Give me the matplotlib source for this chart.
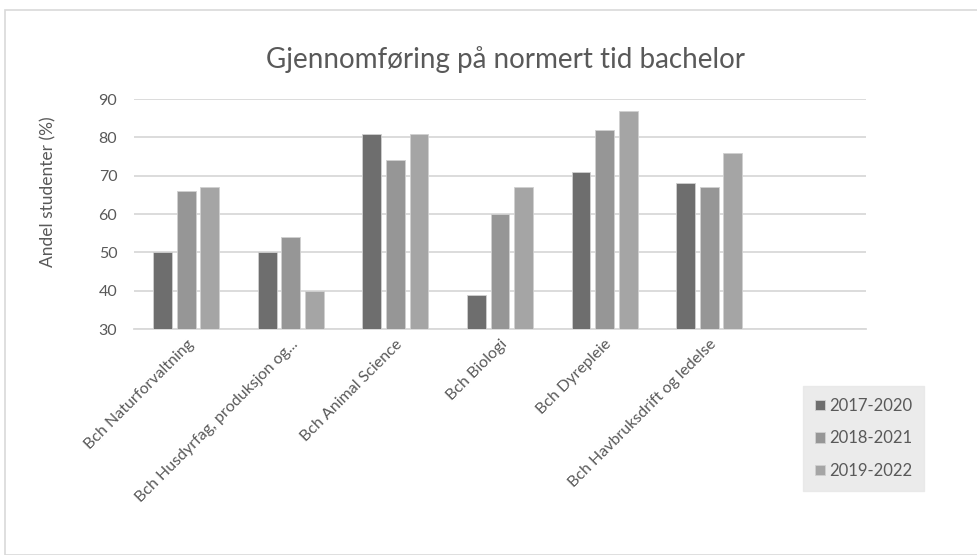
import matplotlib
matplotlib.use("Agg")
import matplotlib.pyplot as plt
import numpy as np
from matplotlib.patches import Rectangle

categories = ["Bch Naturforvaltning", "Bch Husdyrfag, produksjon og...", "Bch Animal Science",
              "Bch Biologi", "Bch Dyrepleie", "Bch Havbruksdrift og ledelse", ""]
series_names = ["2017-2020", "2018-2021", "2019-2022"]
v2017 = [50, 50, 81, 39, 71, 68, None]
v2018 = [66, 54, 74, 60, 82, 67, None]
v2019 = [67, 40, 81, 67, 87, 76, None]
colors = ["#6e6e6e", "#969696", "#a5a5a5"]

plt.rcParams['font.family'] = ['Lato', 'DejaVu Sans']
fig = plt.figure(figsize=(9.78, 5.55), dpi=100)
W, H = 978, 555
ax = fig.add_axes([134/W, 1-329/H, (866-134)/W, (329-99)/H])

x = np.arange(len(categories))
bw = 0.18
step = 0.225
for i, (vals, c, n) in enumerate(zip([v2017, v2018, v2019], colors, series_names)):
    xs = [xi + (i-1)*step for xi, v in zip(x, vals) if v is not None]
    ys = [v - 30 for v in vals if v is not None]
    ax.bar(xs, ys, bottom=30, width=bw, color=c, edgecolor="#d0d0d0", linewidth=0.6, label=n, zorder=3)

ax.set_xlim(-0.5, len(categories)-0.5)
ax.set_ylim(30, 90)
ax.set_yticks(range(30, 91, 10))
ax.grid(axis='y', color="#d9d9d9", linewidth=1.3, zorder=0)
for s in ['top', 'right', 'left']:
    ax.spines[s].set_visible(False)
ax.spines['bottom'].set_color("#d9d9d9")
ax.spines['bottom'].set_linewidth(1.3)
ax.tick_params(axis='both', length=0, colors="#595959", labelsize=11.5)
ax.tick_params(axis='y', pad=12)
ax.tick_params(axis='x', pad=6)
ax.set_xticks(x)
ax.set_xticklabels(categories, rotation=45, ha='right', rotation_mode='anchor', fontsize=11.5)
for lbl in ax.get_xticklabels():
    lbl.set_color("#595959")
ax.set_ylabel("Andel studenter (%)", fontsize=12.5, color="#595959", va='center')
ax.yaxis.set_label_coords((48-134)/732, (329-191.5)/230)

fig.text(505/W, 1-60/H, "Gjennomføring på normert tid bachelor", ha='center', va='center',
         fontsize=20, color="#595959")

leg = fig.legend(loc='upper left', bbox_to_anchor=(803/W, 1-386/H), frameon=True,
                 fontsize=12, handlelength=0.6, handleheight=0.6, labelspacing=1.0,
                 borderpad=0.7, handletextpad=0.3, fancybox=False, borderaxespad=0)
leg.get_frame().set_facecolor("#e6e6e6")
leg.get_frame().set_edgecolor("#e6e6e6")
for t in leg.get_texts():
    t.set_color("#595959")

# outer chart border
fig.patches.append(Rectangle((5/W, 0), 1.0, 1-10/H, transform=fig.transFigure,
                             fill=False, edgecolor="#d9d9d9", linewidth=1.2))

fig.savefig("out.png", dpi=100)
